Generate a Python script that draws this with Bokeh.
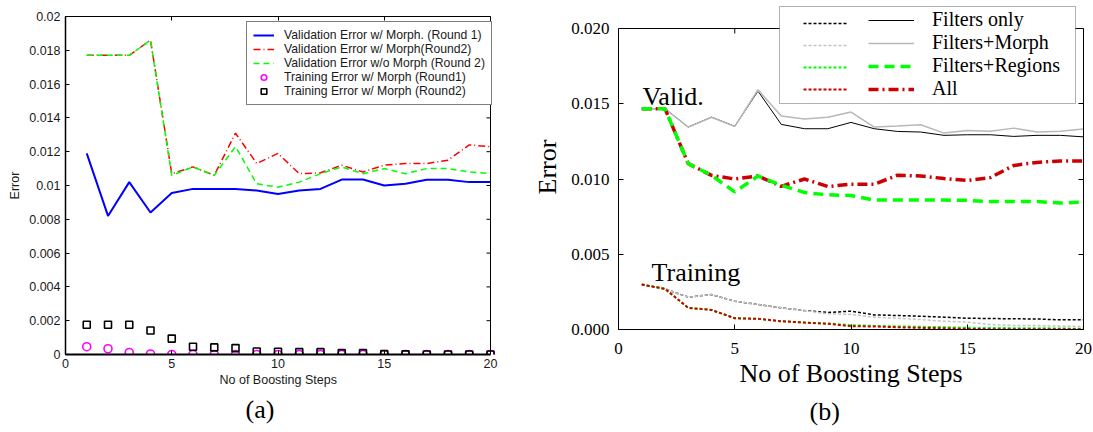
import math
from bokeh.plotting import figure
from bokeh.layouts import row
from bokeh.models import (Legend, LegendItem, LinearAxis, FixedTicker, NumeralTickFormatter,
                          Label, BoxAnnotation, Range1d, Span, Title)
from bokeh.embed import file_html
from bokeh.resources import INLINE

# ---------------- data ----------------
steps = list(range(1, 21))

# (a)
val_r1_morph = [0.0119, 0.0082, 0.0102, 0.0084, 0.00955, 0.0098, 0.0098, 0.0098, 0.0097, 0.0095,
                0.0097, 0.0098, 0.01035, 0.01035, 0.0100, 0.0101, 0.01034, 0.01034, 0.0102, 0.0102]
val_r2_morph = [0.0177, 0.0177, 0.0177, 0.0186, 0.0107, 0.0111, 0.0106, 0.0131, 0.0113, 0.0119,
                0.0107, 0.01075, 0.0112, 0.0108, 0.0112, 0.0113, 0.0113, 0.0115, 0.0124, 0.0123]
val_r2_nomorph = [0.0177, 0.0177, 0.0177, 0.0186, 0.0106, 0.0111, 0.0106, 0.0123, 0.0101, 0.0099,
                  0.0102, 0.0107, 0.0111, 0.0107, 0.0110, 0.0107, 0.0110, 0.0110, 0.0108, 0.0107]
train_r1_morph = [0.00046, 0.00034, 0.00012, 0.00003, 0.0, 0.0, 0.0, 0.0, 0.0, 0.0,
                  0.0, 0.0, 0.0, 0.0, 0.0, 0.0, 0.0, 0.0, 0.0, 0.0]
train_r2_morph = [0.00176, 0.00176, 0.00176, 0.00142, 0.00094, 0.00046, 0.00042, 0.00038, 0.00018, 0.00016,
                  0.00014, 0.00014, 0.00008, 0.00008, 0.00002, 0.00001, 0.0, 0.0, 0.0, 0.0]
x_ticks_a = [0, 5, 10, 15, 20]
y_ticks_a = [0, 0.002, 0.004, 0.006, 0.008, 0.01, 0.012, 0.014, 0.016, 0.018, 0.02]
y_tick_labels_a = ["0", "0.002", "0.004", "0.006", "0.008", "0.01", "0.012", "0.014", "0.016", "0.018", "0.02"]
legend_labels_a = ["Validation Error w/ Morph. (Round 1)", "Validation Error w/ Morph(Round2)",
                   "Validation Error w/o Morph (Round 2)", "Training Error w/ Morph (Round1)",
                   "Training Error w/ Morph (Round2)"]

# (b)
fo_val = [0.01467, 0.01467, 0.01345, 0.01411, 0.0135, 0.01584, 0.01363, 0.01334, 0.01334, 0.01376,
          0.01334, 0.01316, 0.01312, 0.0129, 0.01294, 0.01294, 0.01283, 0.0129, 0.0129, 0.0128]
fm_val = [0.01467, 0.01467, 0.01345, 0.0141, 0.0135, 0.01593, 0.01418, 0.01398, 0.01411, 0.01445,
          0.01345, 0.01352, 0.0136, 0.01305, 0.01323, 0.01318, 0.01338, 0.01312, 0.01318, 0.01332]
fr_val = [0.01467, 0.01467, 0.01102, 0.01024, 0.00914, 0.0102, 0.00958, 0.0091, 0.00895, 0.0089,
          0.0086, 0.0086, 0.0086, 0.0086, 0.00858, 0.0085, 0.0085, 0.0085, 0.0084, 0.00847]
all_val = [0.01467, 0.01467, 0.01102, 0.01024, 0.0100, 0.0102, 0.00951, 0.0100, 0.0095, 0.00965,
           0.00965, 0.01025, 0.0102, 0.01003, 0.0099, 0.0101, 0.0109, 0.0111, 0.0112, 0.0112]
fo_train = [0.00299, 0.0027, 0.00215, 0.00232, 0.00188, 0.00166, 0.00144, 0.00126, 0.00113, 0.00122,
            0.00097, 0.00093, 0.00088, 0.00082, 0.00075, 0.00073, 0.00071, 0.0007, 0.00064, 0.00064]
fm_train = [0.00299, 0.0027, 0.00215, 0.00232, 0.00188, 0.00166, 0.00144, 0.00126, 0.00104, 0.0010,
            0.00082, 0.00075, 0.00066, 0.00055, 0.00049, 0.00033, 0.00027, 0.00026, 0.00022, 0.0002]
fr_train = [0.00299, 0.0027, 0.00144, 0.0013, 0.00075, 0.00071, 0.00055, 0.00046, 0.0004, 0.00029,
            0.00024, 0.0002, 0.00018, 0.00015, 0.00011, 0.0001, 0.00009, 0.00008, 0.00007, 0.00004]
all_train = [0.00299, 0.0027, 0.00144, 0.0013, 0.00075, 0.00071, 0.00055, 0.00046, 0.00038, 0.00022,
             0.0002, 0.00015, 0.00011, 0.00008, 0.00004, 0.00002, 0.00002, 0.00002, 0.00002, 0.00002]
x_ticks_b = [0, 5, 10, 15, 20]
y_ticks_b = [0.0, 0.005, 0.010, 0.015, 0.020]
legend_labels_b = ["Filters only", "Filters+Morph", "Filters+Regions", "All"]

SANS = "Liberation Sans"
SERIF = "Liberation Serif"
TXT = "#1a1a1a"
X_MAX = 20
Y_MAX = 0.02


def hidden_axis(ticks, tick_len, bounds="auto", line=False):
    return LinearAxis(ticker=FixedTicker(ticks=ticks), major_label_text_font_size="0px",
                      major_label_standoff=0, major_tick_in=tick_len, major_tick_out=0,
                      major_tick_line_color="black", minor_tick_line_color=None,
                      axis_line_color="black" if line else None, bounds=bounds)


def style_title(t, font, size, color, offset, standoff):
    t.text_font = font
    t.text_font_size = size
    t.text_font_style = "normal"
    t.text_color = color
    t.align = "left"
    t.offset = offset
    t.standoff = standoff


# ---------------- (a) ----------------
# frame reaches a little right of x=20 so that the legend box can overhang the right edge
x_end_a = X_MAX * 446 / 425
pa = figure(width=530, height=430, min_border_left=65, min_border_right=19,
            min_border_top=16, min_border_bottom=76, x_range=Range1d(0, x_end_a),
            y_range=Range1d(0, Y_MAX), output_backend="svg", toolbar_location=None,
            title=None)
pa.frame_align = False
pa.grid.visible = False
pa.outline_line_color = None
for ax in (pa.xaxis[0], pa.yaxis[0]):
    ax.major_tick_in = 4
    ax.major_tick_out = 0
    ax.minor_tick_line_color = None
    ax.axis_line_width = 1.5
    ax.axis_line_color = "black"
    ax.major_label_text_font = SANS
    ax.major_label_text_font_size = "12.5px"
    ax.major_label_text_color = TXT
    ax.axis_label_text_font = SANS
    ax.axis_label_text_font_size = "12.5px"
    ax.axis_label_text_font_style = "normal"
    ax.axis_label_text_color = TXT
pa.xaxis[0].axis_line_width = 2
pa.xaxis[0].bounds = (0, X_MAX)
pa.xaxis[0].ticker = FixedTicker(ticks=x_ticks_a)
pa.yaxis[0].ticker = FixedTicker(ticks=y_ticks_a)
pa.yaxis[0].major_label_overrides = dict(zip(y_ticks_a, y_tick_labels_a))
pa.yaxis[0].axis_label = "Error"
pa.xaxis[0].major_label_standoff = 4
pa.yaxis[0].major_label_standoff = 5
pa.yaxis[0].axis_label_standoff = 4
pa.add_layout(hidden_axis(x_ticks_a, 4, bounds=(0, X_MAX), line=True), "above")
pa.add_layout(Span(location=X_MAX, dimension="height", line_color="black", line_width=1))
pa.ray(x=[X_MAX] * len(y_ticks_a), y=y_ticks_a, length=4, length_units="screen",
       angle=math.pi, line_color="black", line_width=1)

# x-axis label placed as a side-panel text so it stays centred under 0..20
xlabel_a = Title(text="No of Boosting Steps")
style_title(xlabel_a, SANS, "12.5px", TXT, 154, 1)
pa.add_layout(xlabel_a, "below")
caption_a = Title(text="(a)")
style_title(caption_a, SERIF, "26px", "black", 180, 11)
pa.add_layout(caption_a, "below")

ra1 = pa.line(steps, val_r1_morph, line_color="#0000ff", line_width=2)
ra2 = pa.line(steps, val_r2_morph, line_color="#ff0000", line_width=1.5, line_dash="7 3 1 3")
ra3 = pa.line(steps, val_r2_nomorph, line_color="#00ff00", line_width=1.5, line_dash="6 4")
ra4 = pa.scatter(steps, train_r1_morph, marker="circle", size=8, fill_color=None,
                 line_color="#ff00ff", line_width=1.6)
ra5 = pa.scatter(steps, train_r2_morph, marker="square", size=7, fill_color=None,
                 line_color="black", line_width=1.6)

leg_a = Legend(items=[LegendItem(label=lab, renderers=[r]) for lab, r in
                      zip(legend_labels_a, [ra1, ra2, ra3, ra4, ra5])],
               location=(181, 249), border_line_color="black", border_line_width=1,
               background_fill_color="white", background_fill_alpha=1.0, padding=6, spacing=0,
               label_height=14, glyph_height=14, glyph_width=21, label_standoff=10, margin=0,
               label_text_font=SANS, label_text_font_size="12.2px", label_text_color=TXT)
pa.add_layout(leg_a)

# ---------------- (b) ----------------
# the frame reaches above 0.020 so that the legend box can stand above the plot's top edge
y_top_b = Y_MAX * 325 / 301
pb = figure(width=563, height=430, min_border_left=87, min_border_right=10,
            min_border_top=4, min_border_bottom=101, x_range=Range1d(0, X_MAX),
            y_range=Range1d(0, y_top_b), output_backend="svg", toolbar_location=None,
            title=None)
pb.frame_align = False
pb.grid.visible = False
pb.outline_line_color = None
for ax in (pb.xaxis[0], pb.yaxis[0]):
    ax.major_tick_in = 5
    ax.major_tick_out = 0
    ax.minor_tick_line_color = None
    ax.axis_line_width = 1
    ax.axis_line_color = "black"
    ax.major_label_text_font = SERIF
    ax.major_label_text_font_size = "17px"
    ax.major_label_text_color = "black"
    ax.axis_label_text_font = SERIF
    ax.axis_label_text_font_size = "26px"
    ax.axis_label_text_font_style = "normal"
    ax.axis_label_text_color = "black"
pb.xaxis[0].ticker = FixedTicker(ticks=x_ticks_b)
pb.yaxis[0].ticker = FixedTicker(ticks=y_ticks_b)
pb.yaxis[0].bounds = (0, Y_MAX)
pb.yaxis[0].formatter = NumeralTickFormatter(format="0.000")
pb.xaxis[0].axis_label = "No of Boosting Steps"
pb.yaxis[0].axis_label = "Error"
pb.xaxis[0].major_label_standoff = 13
pb.xaxis[0].axis_label_standoff = 2
pb.yaxis[0].major_label_standoff = 9
pb.yaxis[0].axis_label_standoff = 6
pb.add_layout(hidden_axis(y_ticks_b, 5, bounds=(0, Y_MAX), line=True), "right")
pb.add_layout(Span(location=Y_MAX, dimension="width", line_color="black", line_width=1))
pb.ray(x=x_ticks_b, y=[Y_MAX] * len(x_ticks_b), length=5, length_units="screen",
       angle=-math.pi / 2, line_color="black", line_width=1)
caption_b = Title(text="(b)")
style_title(caption_b, SERIF, "26px", "black", 191, 8)
pb.add_layout(caption_b, "below")

tb1 = pb.line(steps, fo_train, line_color="black", line_width=1.5, line_dash="3 2")
tb2 = pb.line(steps, fm_train, line_color="#c4c4c4", line_width=1.5, line_dash="3 2")
tb3 = pb.line(steps, fr_train, line_color="#00ff00", line_width=2, line_dash="3 2")
tb4 = pb.line(steps, all_train, line_color="#cc0000", line_width=2, line_dash="3 2")
vb1 = pb.line(steps, fo_val, line_color="black", line_width=1)
vb2 = pb.line(steps, fm_val, line_color="#b8b8b8", line_width=1.5)
vb4 = pb.line(steps, all_val, line_color="#cc0000", line_width=3.5, line_dash="10 4 2 4")
vb3 = pb.line(steps, fr_val, line_color="#00ff00", line_width=3.5, line_dash="10 6")

pb.add_layout(Label(x=1.03, y=0.01548, text="Valid.", text_font=SERIF, text_font_size="26px",
                    text_baseline="alphabetic", text_color="black"))
pb.add_layout(Label(x=1.42, y=0.00379, text="Training", text_font=SERIF, text_font_size="26px",
                    text_baseline="alphabetic", text_color="black"))

box_b = BoxAnnotation(left=161, right=457, top=323, bottom=226, left_units="screen",
                      right_units="screen", top_units="screen", bottom_units="screen",
                      fill_color="white", fill_alpha=1.0, line_color="black", line_width=1)
pb.add_layout(box_b)
leg_common = dict(padding=0, spacing=0, label_height=22, glyph_height=22, margin=0,
                  border_line_color=None, background_fill_alpha=0.0,
                  label_text_font=SERIF, label_text_font_size="20px", label_text_color="black")
leg_b1 = Legend(items=[LegendItem(label="", renderers=[r]) for r in [tb1, tb2, tb3, tb4]],
                location=(185, 229), glyph_width=45, label_standoff=0, **leg_common)
leg_b2 = Legend(items=[LegendItem(label=lab, renderers=[r]) for lab, r in
                       zip(legend_labels_b, [vb1, vb2, vb3, vb4])],
                location=(250, 229), glyph_width=46, label_standoff=18, **leg_common)
pb.add_layout(leg_b1)
pb.add_layout(leg_b2)

layout = row(pa, pb, spacing=0)
open("out.html", "w").write(file_html(layout, INLINE))
